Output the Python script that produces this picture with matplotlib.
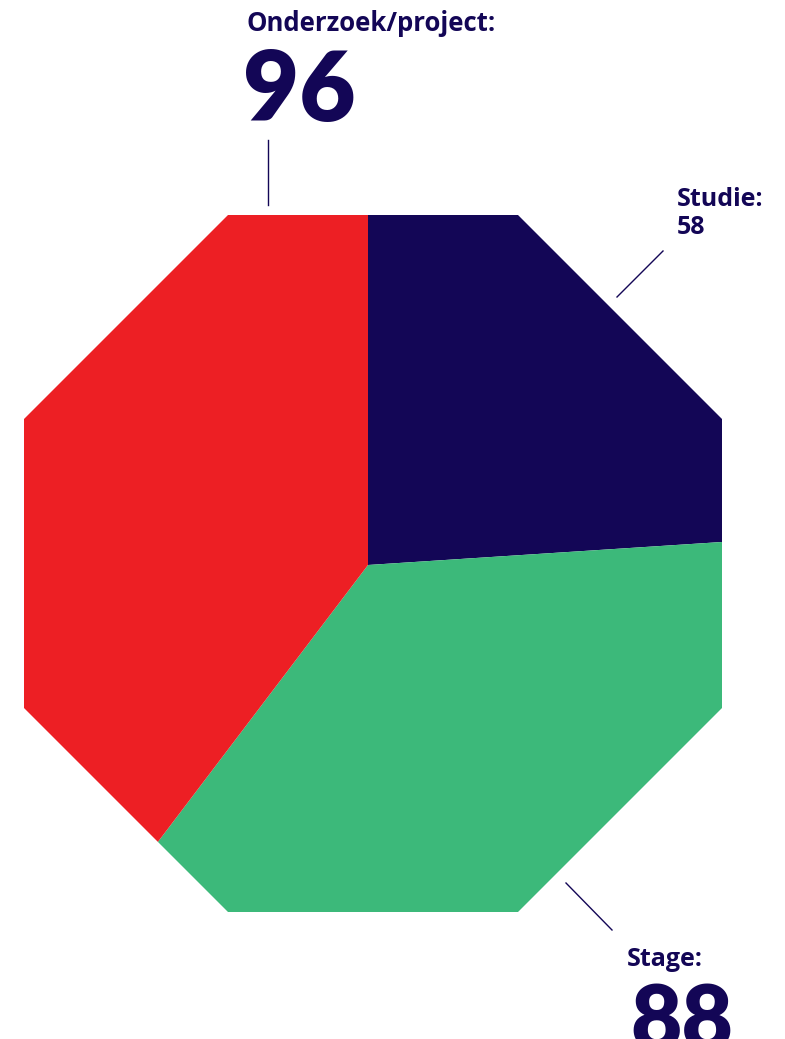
import numpy as np
import matplotlib.pyplot as plt
from matplotlib.patches import Polygon

# Data
labels = ['Studie', 'Stage', 'Onderzoek/project']
values = [58, 88, 96]
colors = ['#130656', '#3CB97A', '#ED1F24']
ink = '#130656'

W, H = 785, 1039
fig = plt.figure(figsize=(W / 100, H / 100), dpi=100)
ax = fig.add_axes([0, 0, 1, 1])

# Pie centre in pixel coords (y flipped so 0 is bottom)
cx, cy = 368, H - 565

wedges, _ = ax.pie(values, colors=colors, startangle=90, counterclock=False,
                   center=(cx, cy), radius=700,
                   wedgeprops=dict(linewidth=0))

# Octagon clip shape
octo = [(228, 215), (518, 215), (722, 419), (722, 708),
        (518, 912), (228, 912), (24, 708), (24, 419)]
octo = [(x, H - y) for x, y in octo]
clip = Polygon(octo, closed=True, transform=ax.transData, facecolor='none', edgecolor='none')
ax.add_patch(clip)
for w in wedges:
    w.set_clip_on(True)   # pie turns clipping off by default
    w.set_clip_path(clip)

ax.set_xlim(0, W)
ax.set_ylim(0, H)
ax.set_aspect('auto')
ax.axis('off')

small = 'Open Sans'
big = 'Lato'

# Onderzoek/project label
ax.text(246, H - 31, labels[2] + ':', fontsize=18.5, fontweight='bold', family=small,
        color=ink, ha='left', va='baseline')
ax.text(243, H - 121, str(values[2]), fontsize=70, fontweight='heavy', family=big,
        color=ink, ha='left', va='baseline')
ax.plot([268, 268], [H - 140, H - 205], color=ink, lw=1)

# Studie label
ax.text(677, H - 206, labels[0] + ':', fontsize=18, fontweight='bold', family=small,
        color=ink, ha='left', va='baseline')
ax.text(677, H - 234, str(values[0]), fontsize=18, fontweight='bold', family=small,
        color=ink, ha='left', va='baseline')
ax.plot([617, 663], [H - 297, H - 251], color=ink, lw=1)

# Stage label (number runs off the bottom edge, as in the source)
ax.text(627, H - 966, labels[1] + ':', fontsize=18, fontweight='bold', family=small,
        color=ink, ha='left', va='baseline')
ax.text(630, H - 1050, str(values[1]), fontsize=64, fontweight='heavy', family=big,
        color=ink, ha='left', va='baseline')
ax.plot([566, 612], [H - 883, H - 930], color=ink, lw=1)

fig.savefig('out.png', dpi=100)
